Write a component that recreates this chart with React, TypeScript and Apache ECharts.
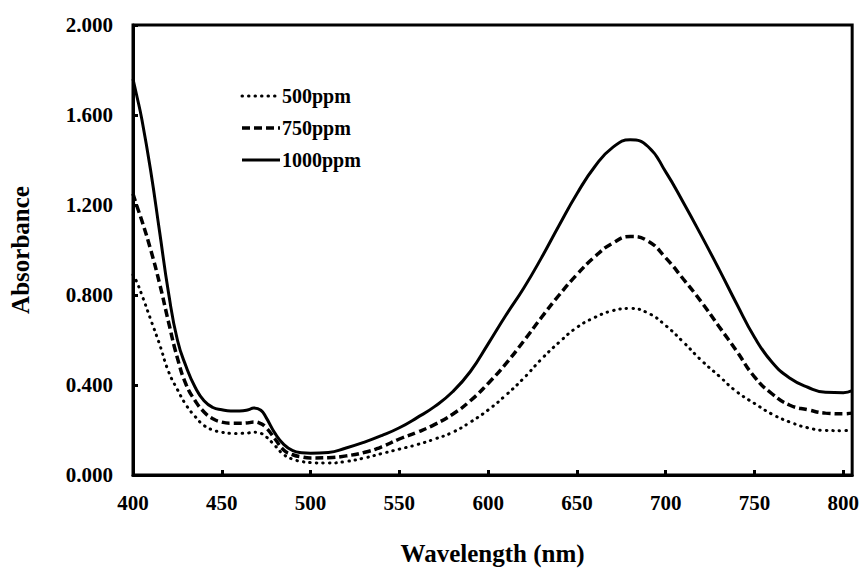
import React, { useEffect, useRef } from "react";
import * as echarts from "echarts";

const wavelengths = [400, 402, 405, 410, 415, 420, 425, 430, 435, 440, 445, 450, 455, 460, 465, 468, 472, 475, 480, 485, 490, 495, 500, 510, 520, 530, 540, 550, 560, 570, 580, 590, 600, 610, 620, 630, 640, 650, 660, 670, 680, 690, 700, 710, 720, 730, 740, 750, 760, 770, 780, 790, 800, 805];

const ppm500 = [0.89, 0.86, 0.80, 0.69, 0.58, 0.46, 0.38, 0.31, 0.26, 0.22, 0.20, 0.19, 0.185, 0.185, 0.187, 0.19, 0.185, 0.17, 0.13, 0.09, 0.07, 0.06, 0.055, 0.053, 0.06, 0.075, 0.095, 0.115, 0.135, 0.16, 0.19, 0.235, 0.289, 0.355, 0.43, 0.515, 0.59, 0.656, 0.70, 0.73, 0.74, 0.72, 0.664, 0.59, 0.51, 0.44, 0.37, 0.318, 0.27, 0.235, 0.21, 0.198, 0.197, 0.20];

const ppm750 = [1.25, 1.20, 1.13, 1.00, 0.85, 0.68, 0.52, 0.40, 0.33, 0.28, 0.25, 0.235, 0.23, 0.23, 0.232, 0.236, 0.228, 0.21, 0.16, 0.11, 0.09, 0.08, 0.076, 0.077, 0.085, 0.10, 0.125, 0.16, 0.19, 0.225, 0.27, 0.33, 0.407, 0.495, 0.595, 0.70, 0.80, 0.891, 0.97, 1.03, 1.06, 1.04, 0.965, 0.87, 0.77, 0.66, 0.55, 0.436, 0.36, 0.31, 0.29, 0.275, 0.272, 0.275];

const ppm1000 = [1.76, 1.69, 1.58, 1.35, 1.08, 0.81, 0.60, 0.48, 0.39, 0.33, 0.30, 0.29, 0.285, 0.285, 0.29, 0.298, 0.288, 0.255, 0.185, 0.135, 0.108, 0.099, 0.097, 0.10, 0.12, 0.145, 0.175, 0.21, 0.255, 0.305, 0.37, 0.46, 0.583, 0.71, 0.83, 0.965, 1.11, 1.25, 1.37, 1.455, 1.49, 1.46, 1.347, 1.21, 1.065, 0.915, 0.76, 0.612, 0.50, 0.43, 0.39, 0.368, 0.366, 0.375];

const seriesNames = ["500ppm", "750ppm", "1000ppm"];
const xTicks = [400, 450, 500, 550, 600, 650, 700, 750, 800];

const FONT = "Liberation Serif";

const lineStyles = [
  { color: "#000", width: 3, type: [0.5, 6] as any, cap: "round" as const },
  { color: "#000", width: 3.5, type: [8, 4] as any, cap: "butt" as const },
  { color: "#000", width: 3, type: "solid" as any, cap: "butt" as const },
];

function pairs(ys: number[]) {
  return wavelengths.map((x, i) => [x, ys[i]]);
}

export default function App() {
  const ref = useRef<HTMLDivElement>(null);
  useEffect(() => {
    if (!ref.current) return;
    const chart = echarts.init(ref.current, undefined, { renderer: "svg" });
    const legendRowsY = [96, 128, 160];
    const legendGraphics: any[] = [];
    seriesNames.forEach((name, i) => {
      const ls = lineStyles[i];
      legendGraphics.push({
        type: "line",
        shape: { x1: 242, y1: legendRowsY[i], x2: 280, y2: legendRowsY[i] },
        style: {
          stroke: "#000",
          lineWidth: ls.width,
          lineDash: Array.isArray(ls.type) ? ls.type : null,
          lineCap: ls.cap,
        },
        silent: true,
      });
      legendGraphics.push({
        type: "text",
        x: 282,
        y: legendRowsY[i],
        style: {
          text: name,
          fill: "#000",
          font: `bold 20px ${FONT}`,
          verticalAlign: "middle",
          align: "left",
        },
        silent: true,
      });
    });
    chart.setOption({
      animation: false,
      backgroundColor: "#ffffff",
      grid: {
        left: 130,
        right: 4,
        top: 25,
        bottom: 92,
        show: true,
        borderColor: "#000",
        borderWidth: 3,
        backgroundColor: "transparent",
      },
      graphic: legendGraphics,
      xAxis: {
        type: "value",
        min: 400,
        max: 805,
        interval: 50,
        name: "Wavelength (nm)",
        nameLocation: "middle",
        nameGap: 66,
        nameTextStyle: { fontFamily: FONT, fontWeight: "bold", fontSize: 25, color: "#000" },
        axisLine: { show: true, lineStyle: { color: "#000", width: 3 } },
        axisTick: { show: true, inside: true, length: 5, lineStyle: { color: "#000", width: 3 } },
        splitLine: { show: false },
        axisLabel: {
          margin: 17,
          showMaxLabel: false,
          fontFamily: FONT,
          fontWeight: "bold",
          fontSize: 21,
          color: "#000",
          formatter: (v: number) => (xTicks.includes(v) ? String(v) : ""),
        },
      },
      yAxis: {
        type: "value",
        min: 0,
        max: 2,
        interval: 0.4,
        name: "Absorbance",
        nameLocation: "middle",
        nameGap: 100,
        nameRotate: 90,
        nameTextStyle: { fontFamily: FONT, fontWeight: "bold", fontSize: 25, color: "#000" },
        axisLine: { show: true, lineStyle: { color: "#000", width: 3 } },
        axisTick: { show: true, inside: true, length: 5, lineStyle: { color: "#000", width: 3 } },
        splitLine: { show: false },
        axisLabel: {
          margin: 20,
          fontFamily: FONT,
          fontWeight: "bold",
          fontSize: 21,
          color: "#000",
          formatter: (v: number) => v.toFixed(3),
        },
      },
      series: [ppm500, ppm750, ppm1000].map((vals, i) => ({
        name: seriesNames[i],
        type: "line",
        data: pairs(vals),
        symbol: "none",
        smooth: 0.5,
        lineStyle: lineStyles[i],
        itemStyle: { color: "#000" },
      })),
    });
    return () => chart.dispose();
  }, []);
  return (
    <div
      ref={ref}
      style={{ position: "fixed", left: 0, top: 0, width: 862, height: 571, background: "#fff" }}
    />
  );
}
